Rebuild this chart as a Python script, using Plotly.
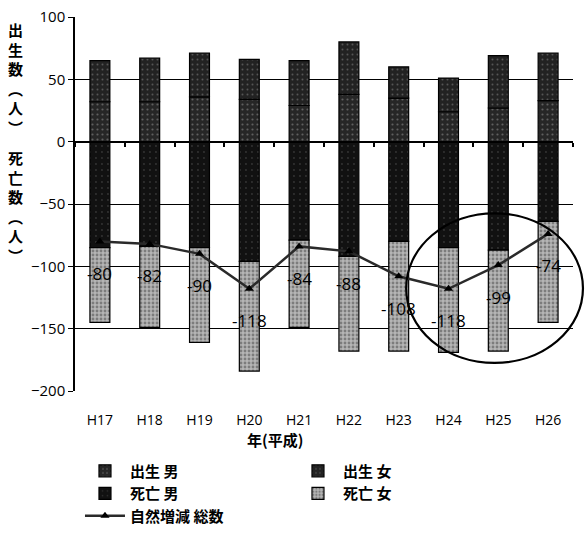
import plotly.graph_objects as go

# 年度ラベル
years = ["H17", "H18", "H19", "H20", "H21", "H22", "H23", "H24", "H25", "H26"]

# 出生数（人）
birth_male = [32, 32, 36, 34, 29, 38, 35, 24, 27, 33]
birth_female = [33, 35, 35, 32, 36, 42, 25, 27, 42, 38]

# 死亡数（人）
death_male = [85, 84, 85, 96, 79, 92, 80, 85, 87, 64]
death_female = [60, 65, 76, 88, 70, 76, 88, 84, 81, 81]

# 自然増減 総数
natural_change = [-80, -82, -90, -118, -84, -88, -108, -118, -99, -74]

y_ticks = [100, 50, 0, -50, -100, -150, -200]

# 縦書きの軸タイトル
y_title_upper = ["出", "生", "数", "︵", "人", "︶"]
y_title_lower = ["死", "亡", "数", "︵", "人", "︶"]

JP = "Noto Sans CJK JP"
NUM = "Open Sans"

W, H = 587, 538
M_L, M_R, M_T, M_B = 75, 14, 17, 147
PLOT_W = W - M_L - M_R
PLOT_H = H - M_T - M_B


def paper_y(px):
    """ページ上端からのピクセル位置を paper 座標に変換"""
    return (H - M_B - px) / PLOT_H


fig = go.Figure()

fig.add_trace(go.Bar(
    x=years, y=birth_male, name="<b>出生 男</b>",
    marker=dict(color="#262626",
                pattern=dict(shape=".", fgcolor="#9a9a9a", size=5, solidity=0.15),
                line=dict(color="black", width=1.2)),
    width=0.4,
))
fig.add_trace(go.Bar(
    x=years, y=birth_female, name="<b>出生 女</b>",
    marker=dict(color="#222222",
                pattern=dict(shape=".", fgcolor="#8a8a8a", size=5, solidity=0.12),
                line=dict(color="black", width=1.2)),
    width=0.4,
))
fig.add_trace(go.Bar(
    x=years, y=[-v for v in death_male], name="<b>死亡 男</b>",
    marker=dict(color="#111111",
                pattern=dict(shape=".", fgcolor="#555555", size=6, solidity=0.08),
                line=dict(color="black", width=1.2)),
    width=0.4,
))
fig.add_trace(go.Bar(
    x=years, y=[-v for v in death_female], name="<b>死亡 女</b>",
    marker=dict(color="#b5b5b5",
                pattern=dict(shape=".", fgcolor="#444444", size=4, solidity=0.4),
                line=dict(color="black", width=1.2)),
    width=0.4,
))
fig.add_trace(go.Scatter(
    x=years, y=natural_change, name="<b>自然増減 総数</b>",
    mode="lines+markers",
    line=dict(color="#2a2a2a", width=2.5),
    marker=dict(symbol="triangle-up", size=8, color="black"),
))

# ゼロ線上の目盛り（カテゴリ境界）用の補助軸
fig.add_trace(go.Scatter(x=[None], y=[None], xaxis="x2", yaxis="y",
                         showlegend=False, hoverinfo="skip"))

# データラベル
for yr, v in zip(years, natural_change):
    fig.add_annotation(x=yr, y=v, text=str(v), showarrow=False, yshift=-32,
                       font=dict(family=NUM, size=17, color="black"))

# 縦軸タイトル（縦書き）
for chars, center_px in ((y_title_upper, 78), (y_title_lower, 206)):
    fig.add_annotation(xref="paper", yref="paper", x=(15 - M_L) / PLOT_W,
                       y=paper_y(center_px),
                       text="<b>" + "<br>".join(chars) + "</b>", showarrow=False,
                       font=dict(family=JP, size=15, color="black"),
                       xanchor="center", yanchor="middle")

# 横軸タイトル
fig.add_annotation(xref="paper", yref="paper", x=0.402, y=-0.131,
                   text="<b>年(平成)</b>", showarrow=False,
                   font=dict(family=JP, size=15, color="black"),
                   xanchor="center", yanchor="middle")

# 丸囲み
fig.add_shape(type="circle", xref="paper", yref="paper",
              x0=0.665, x1=1.02, y0=0.075, y1=0.475,
              line=dict(color="black", width=2.2))

fig.update_layout(
    width=W, height=H,
    margin=dict(l=M_L, r=M_R, t=M_T, b=M_B, autoexpand=False),
    barmode="relative",
    plot_bgcolor="white", paper_bgcolor="white",
    font=dict(family=NUM, color="black"),
    showlegend=True,
    legend=dict(orientation="h", x=0.01, y=-0.17, xanchor="left", yanchor="top",
                entrywidth=158, entrywidthmode="pixels",
                traceorder="normal",
                font=dict(family=JP, size=15, color="black"),
                itemwidth=40, tracegroupgap=0),
    xaxis=dict(
        type="category", range=[-0.5, 9.5],
        showline=False, ticks="", showgrid=False,
        tickfont=dict(family=NUM, size=14, color="black"),
        ticklabelstandoff=19,
    ),
    xaxis2=dict(
        overlaying="x", anchor="free", position=2 / 3,
        range=[-0.5, 9.5], tickmode="linear", tick0=-0.5, dtick=1,
        ticks="outside", ticklen=4, tickwidth=2, tickcolor="black",
        showticklabels=False, showline=True, linecolor="black", linewidth=2,
        showgrid=False, zeroline=False,
    ),
    yaxis=dict(
        range=[-200, 100], tickvals=y_ticks,
        showgrid=True, gridcolor="black", gridwidth=1,
        showline=True, linecolor="black", linewidth=1.5,
        ticks="outside", ticklen=5, tickcolor="black",
        zeroline=True, zerolinecolor="black", zerolinewidth=2,
        tickfont=dict(family=NUM, size=15, color="black"),
    ),
)

fig.write_html("out.html")
